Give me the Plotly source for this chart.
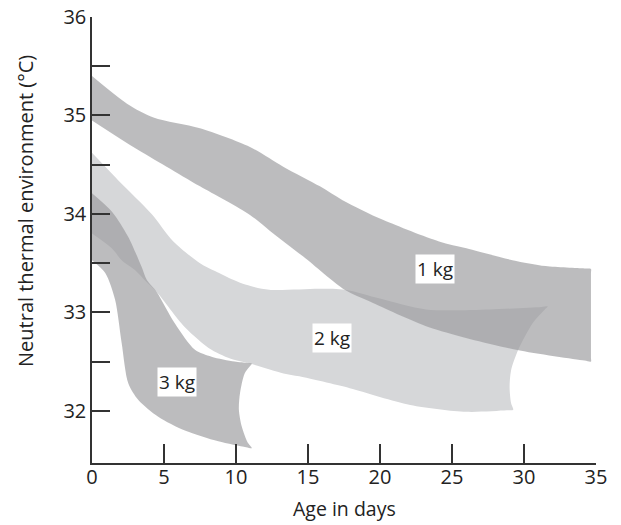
import plotly.graph_objects as go

# ---- data ----
# 1 kg band
kg1_upper_x = [0, 2.43, 4.27, 7.5, 10.97, 13.28, 15.83, 17.4, 20.2, 24.1, 26.0, 29.2, 31.5, 34.2, 34.65]
kg1_upper_y = [35.40, 35.12, 34.98, 34.87, 34.68, 34.48, 34.28, 34.14, 33.94, 33.72, 33.65, 33.53, 33.47, 33.445, 33.44]
kg1_right_x = [34.65, 34.65]
kg1_right_y = [33.40, 32.54]
kg1_lower_x = [0, 2.87, 5.18, 7.5, 10.97, 12.34, 14.65, 17.55, 19.3, 23.4, 29.45, 34.2, 34.65]
kg1_lower_y = [34.95, 34.68, 34.48, 34.28, 33.99, 33.83, 33.57, 33.23, 33.11, 32.85, 32.62, 32.51, 32.50]

# 2 kg band
kg2_upper_x = [0, 1.83, 4.14, 5.65, 7.5, 8.54, 9.8, 10.7, 12.3, 15.8, 17.6, 20.0, 23.2, 27.6, 31.2, 31.65]
kg2_upper_y = [34.62, 34.34, 34.0, 33.72, 33.50, 33.42, 33.33, 33.28, 33.23, 33.24, 33.23, 33.14, 33.03, 33.03, 33.055, 33.06]
kg2_right_x = [31.45, 30.6, 29.6, 29.1, 29.0, 29.1, 29.25]
kg2_right_y = [33.03, 32.89, 32.62, 32.41, 32.24, 32.08, 32.01]
kg2_lower_x = [28.8, 26.0, 22.1, 17.9, 14.4, 13.3, 10.97, 9.8, 8.3, 6.45, 4.48, 3.7, 2.98, 2.06, 1.37, 0]
kg2_lower_y = [32.005, 31.99, 32.06, 32.23, 32.35, 32.38, 32.48, 32.52, 32.62, 32.85, 33.21, 33.32, 33.43, 33.53, 33.65, 33.80]

# 3 kg band
kg3_upper_x = [0, 1.4, 2.5, 3.45, 3.8, 4.48, 5.75, 7.15, 8.3, 9.9, 10.8, 11.1]
kg3_upper_y = [34.21, 34.02, 33.77, 33.46, 33.33, 33.21, 32.89, 32.62, 32.55, 32.50, 32.485, 32.48]
kg3_right_x = [10.95, 10.6, 10.28, 10.2, 10.4, 10.8, 11.1]
kg3_right_y = [32.45, 32.38, 32.18, 32.01, 31.84, 31.68, 31.62]
kg3_lower_x = [10.7, 8.77, 6.45, 4.6, 3.22, 2.52, 2.06, 1.6, 0.92, 0]
kg3_lower_y = [31.63, 31.69, 31.80, 31.94, 32.11, 32.28, 32.69, 33.13, 33.40, 33.53]

# labels
label_text = ["1 kg", "2 kg", "3 kg"]
label_x = [23.8, 16.7, 5.9]
label_y = [33.44, 32.74, 32.29]

x_ticks = [0, 5, 10, 15, 20, 25, 30, 35]
y_ticks = [32, 32.5, 33, 33.5, 34, 34.5, 35, 35.5, 36]
y_ticktext = ["32", "", "33", "", "34", "", "35", "", "36"]

TXT = "#222222"
AX = "#333333"
FONT = "Open Sans"

fig = go.Figure()

def band(xs, ys, color):
    fig.add_trace(go.Scatter(
        x=xs, y=ys, mode="lines", fill="toself", fillcolor=color,
        line=dict(width=0, color=color, shape="spline", smoothing=0.8),
        hoverinfo="skip", showlegend=False))

band(kg2_upper_x + kg2_right_x + kg2_lower_x, kg2_upper_y + kg2_right_y + kg2_lower_y,
     "rgb(214,215,217)")
band(kg1_upper_x + kg1_right_x + kg1_lower_x[::-1], kg1_upper_y + kg1_right_y + kg1_lower_y[::-1],
     "rgba(153,154,156,0.66)")
band(kg3_upper_x + kg3_right_x + kg3_lower_x, kg3_upper_y + kg3_right_y + kg3_lower_y,
     "rgba(153,154,156,0.66)")

for t, x, y in zip(label_text, label_x, label_y):
    fig.add_annotation(x=x, y=y, text=t, showarrow=False, bgcolor="white",
                       borderpad=1, font=dict(family=FONT, size=19, color=TXT))

fig.add_annotation(xref="paper", yref="paper", x=-0.133, y=0.565, text="Neutral thermal environment (°C)",
                   textangle=-90, showarrow=False, xanchor="center", yanchor="middle",
                   font=dict(family=FONT, size=20, color=TXT))
fig.add_annotation(xref="paper", yref="paper", x=0.5, y=-0.103, text="Age in days",
                   showarrow=False, xanchor="center", yanchor="middle",
                   font=dict(family=FONT, size=19.5, color=TXT))

fig.update_layout(
    width=621, height=525,
    margin=dict(l=92, r=25, t=17, b=62),
    paper_bgcolor="white", plot_bgcolor="white",
    xaxis=dict(range=[0, 35], tickvals=x_ticks, ticks="inside", ticklen=19, tickwidth=1.5,
               tickcolor=AX, showline=True, linecolor=AX, linewidth=1.5, showgrid=False,
               zeroline=False, ticklabelstandoff=-5, automargin=False,
               tickfont=dict(family=FONT, size=20, color=TXT)),
    yaxis=dict(range=[31.47, 36], tickvals=y_ticks, ticktext=y_ticktext, ticks="inside",
               ticklen=18, tickwidth=1.5, tickcolor=AX, showline=True, linecolor=AX,
               linewidth=1.5, showgrid=False, zeroline=False, automargin=False,
               tickfont=dict(family=FONT, size=20, color=TXT)),
)

fig.write_html("out.html", config={"displayModeBar": False},
               post_script="document.body.style.margin='0';document.body.style.overflow='hidden';")
